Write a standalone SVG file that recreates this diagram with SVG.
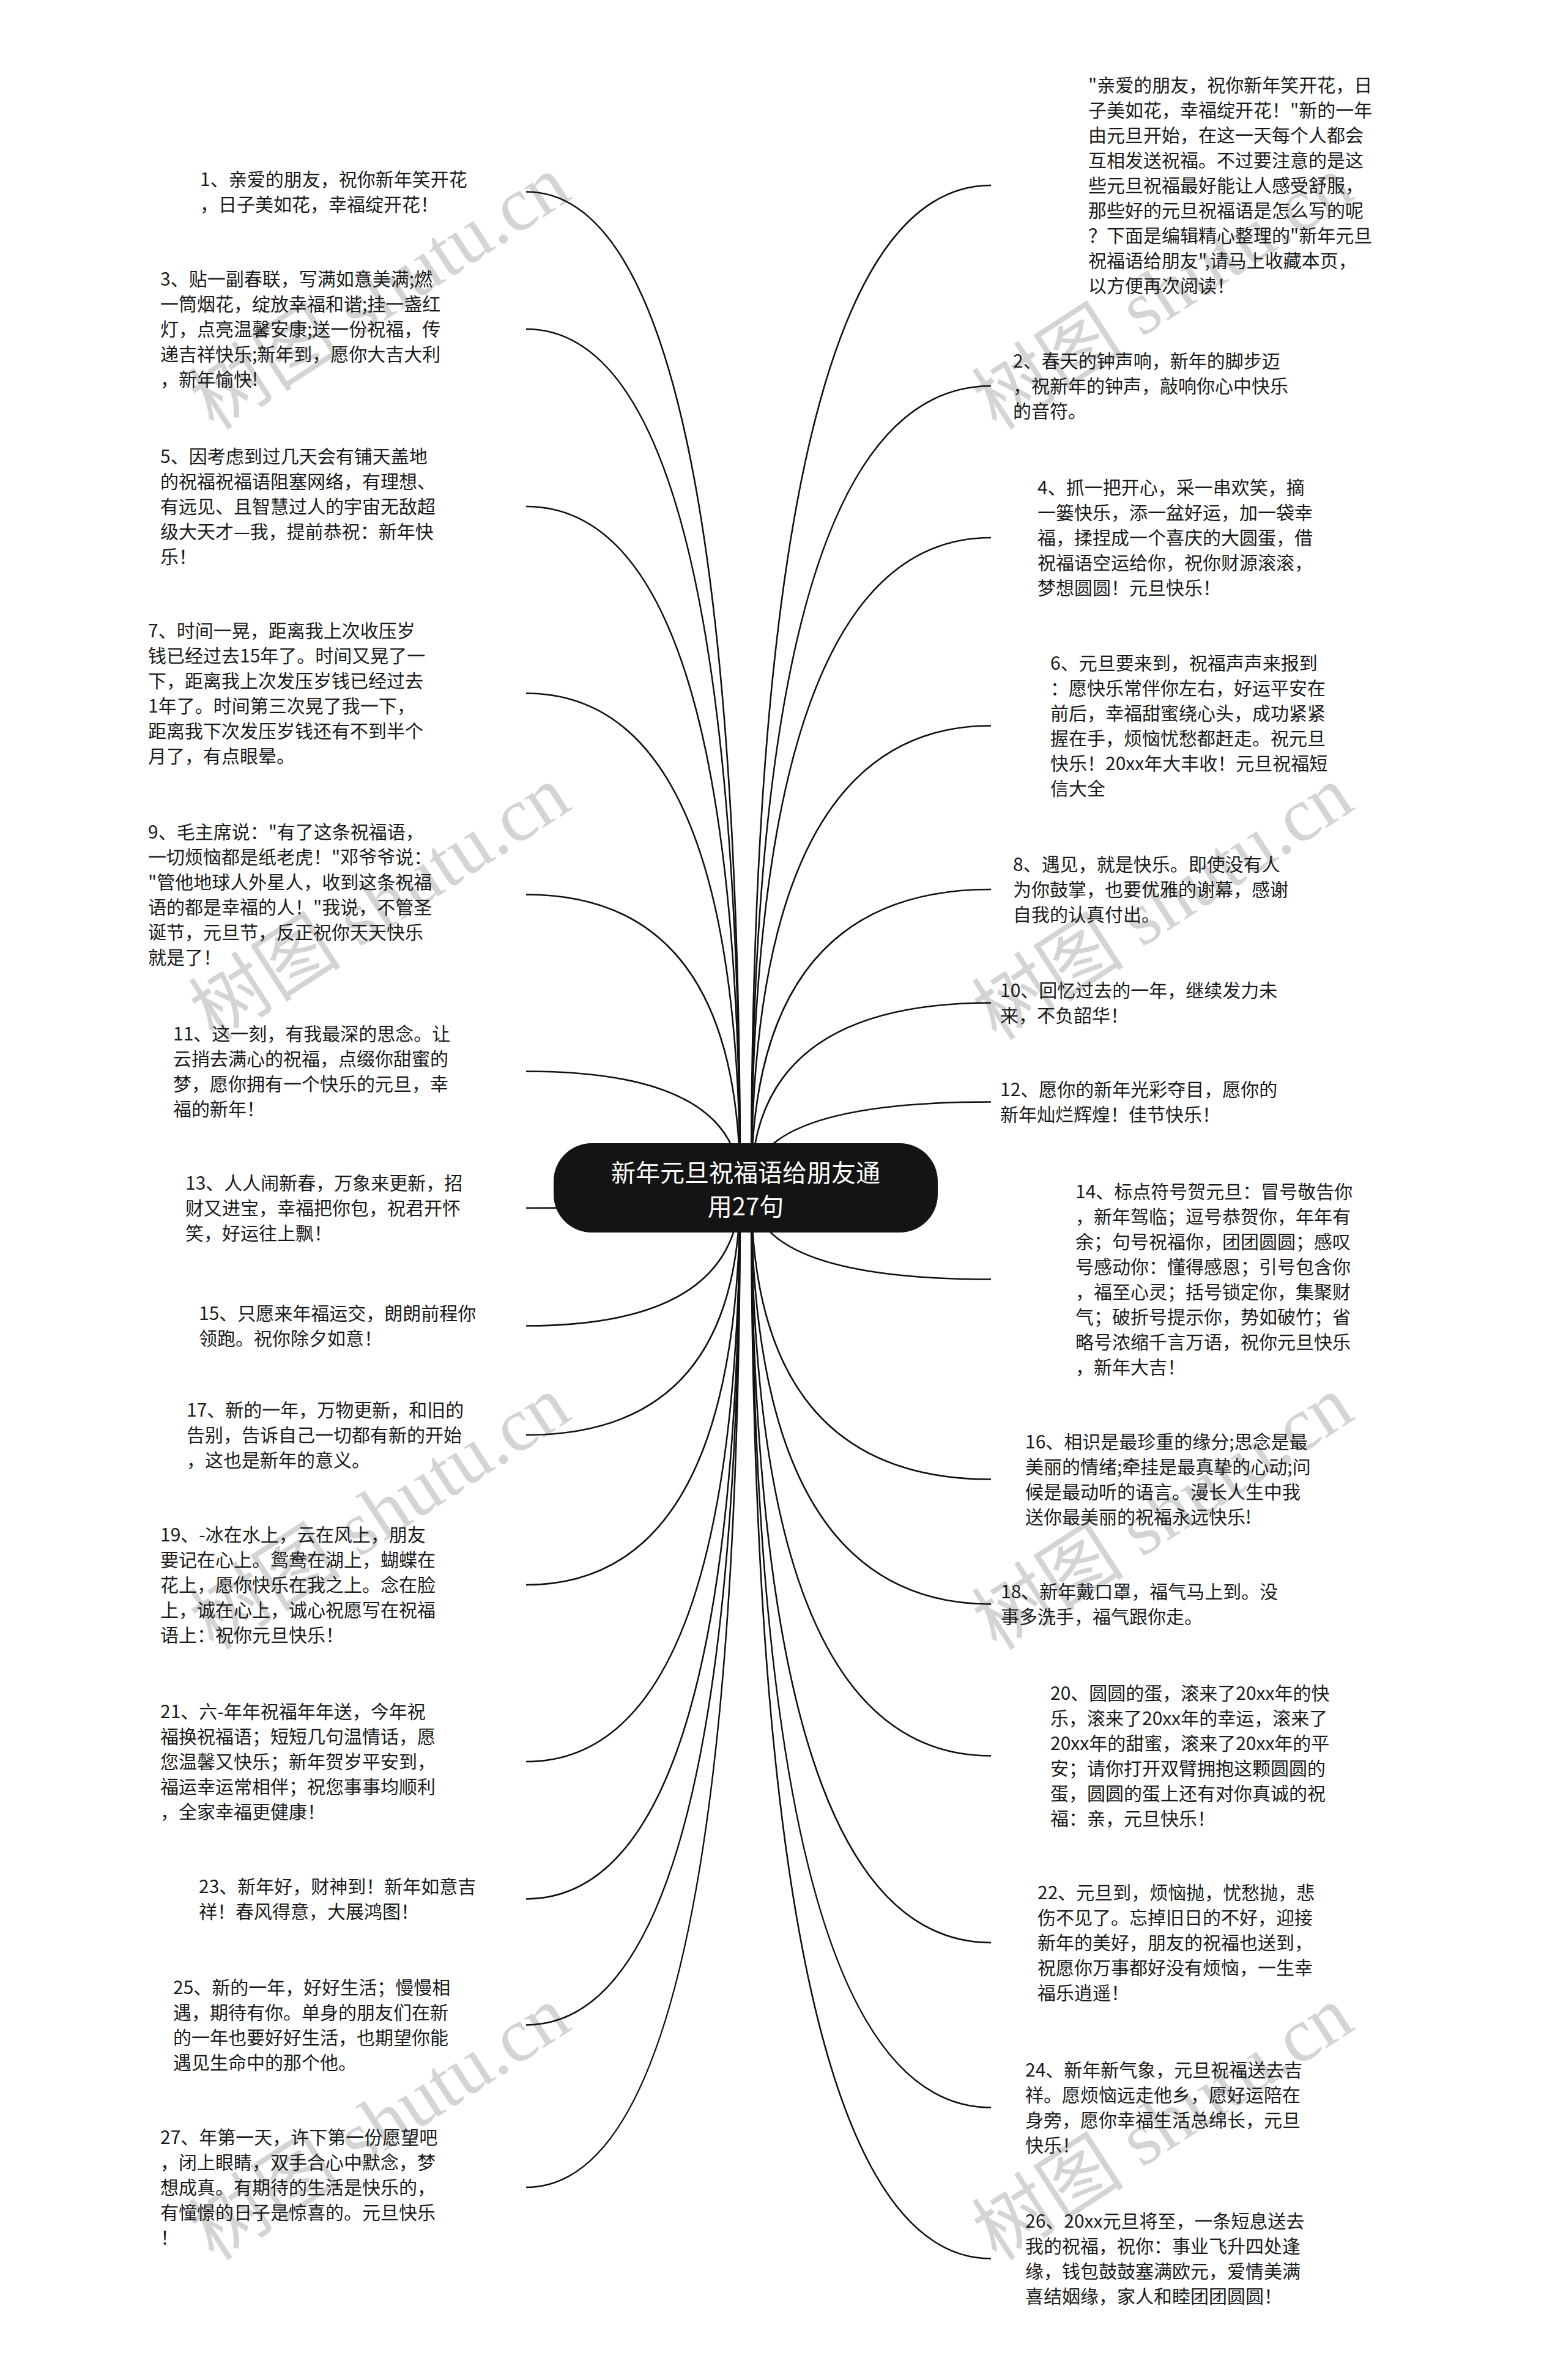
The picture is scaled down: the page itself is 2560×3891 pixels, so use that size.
<svg xmlns="http://www.w3.org/2000/svg" width="2560" height="3891" viewBox="0 0 2560 3891">
<style>
.t{font-family:"Noto Sans CJK SC","Microsoft YaHei",sans-serif;font-size:30px;fill:#1a1a1a}
.c{fill:none;stroke:#111;stroke-width:2.6}
.wm{font-family:"Liberation Serif","Noto Sans CJK SC",serif;font-size:125px;fill:#d4d4d4}
.ct{font-family:"Noto Sans CJK SC","Microsoft YaHei",sans-serif;font-size:40px;fill:#fff;text-anchor:middle}
</style>
<rect width="2560" height="3891" fill="#fff"/>
<g id="watermarks">
<text class="wm" x="350" y="705" transform="rotate(-33 350 705)">树图 shutu.cn</text>
<text class="wm" x="1630" y="705" transform="rotate(-33 1630 705)">树图 shutu.cn</text>
<text class="wm" x="350" y="1703" transform="rotate(-33 350 1703)">树图 shutu.cn</text>
<text class="wm" x="1630" y="1703" transform="rotate(-33 1630 1703)">树图 shutu.cn</text>
<text class="wm" x="350" y="2700" transform="rotate(-33 350 2700)">树图 shutu.cn</text>
<text class="wm" x="1630" y="2700" transform="rotate(-33 1630 2700)">树图 shutu.cn</text>
<text class="wm" x="350" y="3698" transform="rotate(-33 350 3698)">树图 shutu.cn</text>
<text class="wm" x="1630" y="3698" transform="rotate(-33 1630 3698)">树图 shutu.cn</text>
</g>
<g id="connectors">
<path class="c" d="M1210,1942 Q1210,313.5 860,313.5"/>
<path class="c" d="M1210,1942 Q1210,538 860,538"/>
<path class="c" d="M1210,1942 Q1210,828 860,828"/>
<path class="c" d="M1210,1942 Q1210,1133.5 860,1133.5"/>
<path class="c" d="M1210,1942 Q1210,1462.5 860,1462.5"/>
<path class="c" d="M1210,1942 Q1210,1751.5 860,1751.5"/>
<path class="c" d="M1210,1942 Q1210,1975 860,1975"/>
<path class="c" d="M1210,1942 Q1210,2167.5 860,2167.5"/>
<path class="c" d="M1210,1942 Q1210,2346 860,2346"/>
<path class="c" d="M1210,1942 Q1210,2591 860,2591"/>
<path class="c" d="M1210,1942 Q1210,2880 860,2880"/>
<path class="c" d="M1210,1942 Q1210,3104.5 860,3104.5"/>
<path class="c" d="M1210,1942 Q1210,3310.5 860,3310.5"/>
<path class="c" d="M1210,1942 Q1210,3576 860,3576"/>
<path class="c" d="M1228,1942 Q1228,303 1620,303"/>
<path class="c" d="M1228,1942 Q1228,631 1620,631"/>
<path class="c" d="M1228,1942 Q1228,879 1620,879"/>
<path class="c" d="M1228,1942 Q1228,1186.5 1620,1186.5"/>
<path class="c" d="M1228,1942 Q1228,1454 1620,1454"/>
<path class="c" d="M1228,1942 Q1228,1639.5 1620,1639.5"/>
<path class="c" d="M1228,1942 Q1228,1801.5 1620,1801.5"/>
<path class="c" d="M1228,1942 Q1228,2091.5 1620,2091.5"/>
<path class="c" d="M1228,1942 Q1228,2418.5 1620,2418.5"/>
<path class="c" d="M1228,1942 Q1228,2622.5 1620,2622.5"/>
<path class="c" d="M1228,1942 Q1228,2870.5 1620,2870.5"/>
<path class="c" d="M1228,1942 Q1228,3176 1620,3176"/>
<path class="c" d="M1228,1942 Q1228,3445.5 1620,3445.5"/>
<path class="c" d="M1228,1942 Q1228,3692.5 1620,3692.5"/>
</g>
<g id="center">
<rect x="905" y="1869" width="628" height="146" rx="62" fill="#141414"/>
<text class="ct" x="1219" y="1932">新年元旦祝福语给朋友通</text>
<text class="ct" x="1219" y="1987">用27句</text>
</g>
<g id="node-L1"><text class="t" y="304"><tspan x="327">1、亲爱的朋友，祝你新年笑开花</tspan><tspan x="327" dy="41">，日子美如花，幸福绽开花！</tspan></text></g>
<g id="node-L3"><text class="t" y="467"><tspan x="262">3、贴一副春联，写满如意美满;燃</tspan><tspan x="262" dy="41">一筒烟花，绽放幸福和谐;挂一盏红</tspan><tspan x="262" dy="41">灯，点亮温馨安康;送一份祝福，传</tspan><tspan x="262" dy="41">递吉祥快乐;新年到，愿你大吉大利</tspan><tspan x="262" dy="41">，新年愉快!</tspan></text></g>
<g id="node-L5"><text class="t" y="757"><tspan x="262">5、因考虑到过几天会有铺天盖地</tspan><tspan x="262" dy="41">的祝福祝福语阻塞网络，有理想、</tspan><tspan x="262" dy="41">有远见、且智慧过人的宇宙无敌超</tspan><tspan x="262" dy="41">级大天才—我，提前恭祝：新年快</tspan><tspan x="262" dy="41">乐！</tspan></text></g>
<g id="node-L7"><text class="t" y="1042"><tspan x="242">7、时间一晃，距离我上次收压岁</tspan><tspan x="242" dy="41">钱已经过去15年了。时间又晃了一</tspan><tspan x="242" dy="41">下，距离我上次发压岁钱已经过去</tspan><tspan x="242" dy="41">1年了。时间第三次晃了我一下，</tspan><tspan x="242" dy="41">距离我下次发压岁钱还有不到半个</tspan><tspan x="242" dy="41">月了，有点眼晕。</tspan></text></g>
<g id="node-L9"><text class="t" y="1371"><tspan x="242">9、毛主席说："有了这条祝福语，</tspan><tspan x="242" dy="41">一切烦恼都是纸老虎！"邓爷爷说：</tspan><tspan x="242" dy="41">"管他地球人外星人，收到这条祝福</tspan><tspan x="242" dy="41">语的都是幸福的人！"我说，不管圣</tspan><tspan x="242" dy="41">诞节，元旦节，反正祝你天天快乐</tspan><tspan x="242" dy="41">就是了！</tspan></text></g>
<g id="node-L11"><text class="t" y="1701"><tspan x="283">11、这一刻，有我最深的思念。让</tspan><tspan x="283" dy="41">云捎去满心的祝福，点缀你甜蜜的</tspan><tspan x="283" dy="41">梦，愿你拥有一个快乐的元旦，幸</tspan><tspan x="283" dy="41">福的新年！</tspan></text></g>
<g id="node-L13"><text class="t" y="1945"><tspan x="303">13、人人闹新春，万象来更新，招</tspan><tspan x="303" dy="41">财又进宝，幸福把你包，祝君开怀</tspan><tspan x="303" dy="41">笑，好运往上飘！</tspan></text></g>
<g id="node-L15"><text class="t" y="2158"><tspan x="325">15、只愿来年福运交，朗朗前程你</tspan><tspan x="325" dy="41">领跑。祝你除夕如意！</tspan></text></g>
<g id="node-L17"><text class="t" y="2316"><tspan x="305">17、新的一年，万物更新，和旧的</tspan><tspan x="305" dy="41">告别，告诉自己一切都有新的开始</tspan><tspan x="305" dy="41">，这也是新年的意义。</tspan></text></g>
<g id="node-L19"><text class="t" y="2520"><tspan x="262">19、-冰在水上，云在风上，朋友</tspan><tspan x="262" dy="41">要记在心上。鸳鸯在湖上，蝴蝶在</tspan><tspan x="262" dy="41">花上，愿你快乐在我之上。念在脸</tspan><tspan x="262" dy="41">上，诚在心上，诚心祝愿写在祝福</tspan><tspan x="262" dy="41">语上：祝你元旦快乐！</tspan></text></g>
<g id="node-L21"><text class="t" y="2809"><tspan x="262">21、六-年年祝福年年送，今年祝</tspan><tspan x="262" dy="41">福换祝福语；短短几句温情话，愿</tspan><tspan x="262" dy="41">您温馨又快乐；新年贺岁平安到，</tspan><tspan x="262" dy="41">福运幸运常相伴；祝您事事均顺利</tspan><tspan x="262" dy="41">，全家幸福更健康！</tspan></text></g>
<g id="node-L23"><text class="t" y="3095"><tspan x="325">23、新年好，财神到！新年如意吉</tspan><tspan x="325" dy="41">祥！春风得意，大展鸿图！</tspan></text></g>
<g id="node-L25"><text class="t" y="3260"><tspan x="283">25、新的一年，好好生活；慢慢相</tspan><tspan x="283" dy="41">遇，期待有你。单身的朋友们在新</tspan><tspan x="283" dy="41">的一年也要好好生活，也期望你能</tspan><tspan x="283" dy="41">遇见生命中的那个他。</tspan></text></g>
<g id="node-L27"><text class="t" y="3505"><tspan x="262">27、年第一天，许下第一份愿望吧</tspan><tspan x="262" dy="41">，闭上眼睛，双手合心中默念，梦</tspan><tspan x="262" dy="41">想成真。有期待的生活是快乐的，</tspan><tspan x="262" dy="41">有憧憬的日子是惊喜的。元旦快乐</tspan><tspan x="262" dy="41">！</tspan></text></g>
<g id="node-R0"><text class="t" y="150"><tspan x="1779">"亲爱的朋友，祝你新年笑开花，日</tspan><tspan x="1779" dy="41">子美如花，幸福绽开花！"新的一年</tspan><tspan x="1779" dy="41">由元旦开始，在这一天每个人都会</tspan><tspan x="1779" dy="41">互相发送祝福。不过要注意的是这</tspan><tspan x="1779" dy="41">些元旦祝福最好能让人感受舒服，</tspan><tspan x="1779" dy="41">那些好的元旦祝福语是怎么写的呢</tspan><tspan x="1779" dy="41">？下面是编辑精心整理的"新年元旦</tspan><tspan x="1779" dy="41">祝福语给朋友",请马上收藏本页，</tspan><tspan x="1779" dy="41">以方便再次阅读！</tspan></text></g>
<g id="node-R2"><text class="t" y="601"><tspan x="1656">2、春天的钟声响，新年的脚步迈</tspan><tspan x="1656" dy="41">，祝新年的钟声，敲响你心中快乐</tspan><tspan x="1656" dy="41">的音符。</tspan></text></g>
<g id="node-R4"><text class="t" y="808"><tspan x="1696">4、抓一把开心，采一串欢笑，摘</tspan><tspan x="1696" dy="41">一篓快乐，添一盆好运，加一袋幸</tspan><tspan x="1696" dy="41">福，揉捏成一个喜庆的大圆蛋，借</tspan><tspan x="1696" dy="41">祝福语空运给你，祝你财源滚滚，</tspan><tspan x="1696" dy="41">梦想圆圆！元旦快乐！</tspan></text></g>
<g id="node-R6"><text class="t" y="1095"><tspan x="1717">6、元旦要来到，祝福声声来报到</tspan><tspan x="1717" dy="41">：愿快乐常伴你左右，好运平安在</tspan><tspan x="1717" dy="41">前后，幸福甜蜜绕心头，成功紧紧</tspan><tspan x="1717" dy="41">握在手，烦恼忧愁都赶走。祝元旦</tspan><tspan x="1717" dy="41">快乐！20xx年大丰收！元旦祝福短</tspan><tspan x="1717" dy="41">信大全</tspan></text></g>
<g id="node-R8"><text class="t" y="1424"><tspan x="1656">8、遇见，就是快乐。即使没有人</tspan><tspan x="1656" dy="41">为你鼓掌，也要优雅的谢幕，感谢</tspan><tspan x="1656" dy="41">自我的认真付出。</tspan></text></g>
<g id="node-R10"><text class="t" y="1630"><tspan x="1635">10、回忆过去的一年，继续发力未</tspan><tspan x="1635" dy="41">来，不负韶华！</tspan></text></g>
<g id="node-R12"><text class="t" y="1792"><tspan x="1635">12、愿你的新年光彩夺目，愿你的</tspan><tspan x="1635" dy="41">新年灿烂辉煌！佳节快乐！</tspan></text></g>
<g id="node-R14"><text class="t" y="1959"><tspan x="1758">14、标点符号贺元旦：冒号敬告你</tspan><tspan x="1758" dy="41">，新年驾临；逗号恭贺你，年年有</tspan><tspan x="1758" dy="41">余；句号祝福你，团团圆圆；感叹</tspan><tspan x="1758" dy="41">号感动你：懂得感恩；引号包含你</tspan><tspan x="1758" dy="41">，福至心灵；括号锁定你，集聚财</tspan><tspan x="1758" dy="41">气；破折号提示你，势如破竹；省</tspan><tspan x="1758" dy="41">略号浓缩千言万语，祝你元旦快乐</tspan><tspan x="1758" dy="41">，新年大吉！</tspan></text></g>
<g id="node-R16"><text class="t" y="2368"><tspan x="1676">16、相识是最珍重的缘分;思念是最</tspan><tspan x="1676" dy="41">美丽的情绪;牵挂是最真挚的心动;问</tspan><tspan x="1676" dy="41">候是最动听的语言。漫长人生中我</tspan><tspan x="1676" dy="41">送你最美丽的祝福永远快乐!</tspan></text></g>
<g id="node-R18"><text class="t" y="2613"><tspan x="1636">18、新年戴口罩，福气马上到。没</tspan><tspan x="1636" dy="41">事多洗手，福气跟你走。</tspan></text></g>
<g id="node-R20"><text class="t" y="2779"><tspan x="1717">20、圆圆的蛋，滚来了20xx年的快</tspan><tspan x="1717" dy="41">乐，滚来了20xx年的幸运，滚来了</tspan><tspan x="1717" dy="41">20xx年的甜蜜，滚来了20xx年的平</tspan><tspan x="1717" dy="41">安；请你打开双臂拥抱这颗圆圆的</tspan><tspan x="1717" dy="41">蛋，圆圆的蛋上还有对你真诚的祝</tspan><tspan x="1717" dy="41">福：亲，元旦快乐！</tspan></text></g>
<g id="node-R22"><text class="t" y="3105"><tspan x="1696">22、元旦到，烦恼抛，忧愁抛，悲</tspan><tspan x="1696" dy="41">伤不见了。忘掉旧日的不好，迎接</tspan><tspan x="1696" dy="41">新年的美好，朋友的祝福也送到，</tspan><tspan x="1696" dy="41">祝愿你万事都好没有烦恼，一生幸</tspan><tspan x="1696" dy="41">福乐逍遥！</tspan></text></g>
<g id="node-R24"><text class="t" y="3395"><tspan x="1676">24、新年新气象，元旦祝福送去吉</tspan><tspan x="1676" dy="41">祥。愿烦恼远走他乡，愿好运陪在</tspan><tspan x="1676" dy="41">身旁，愿你幸福生活总绵长，元旦</tspan><tspan x="1676" dy="41">快乐！</tspan></text></g>
<g id="node-R26"><text class="t" y="3642"><tspan x="1676">26、20xx元旦将至，一条短息送去</tspan><tspan x="1676" dy="41">我的祝福，祝你：事业飞升四处逢</tspan><tspan x="1676" dy="41">缘，钱包鼓鼓塞满欧元，爱情美满</tspan><tspan x="1676" dy="41">喜结姻缘，家人和睦团团圆圆！</tspan></text></g>
</svg>
